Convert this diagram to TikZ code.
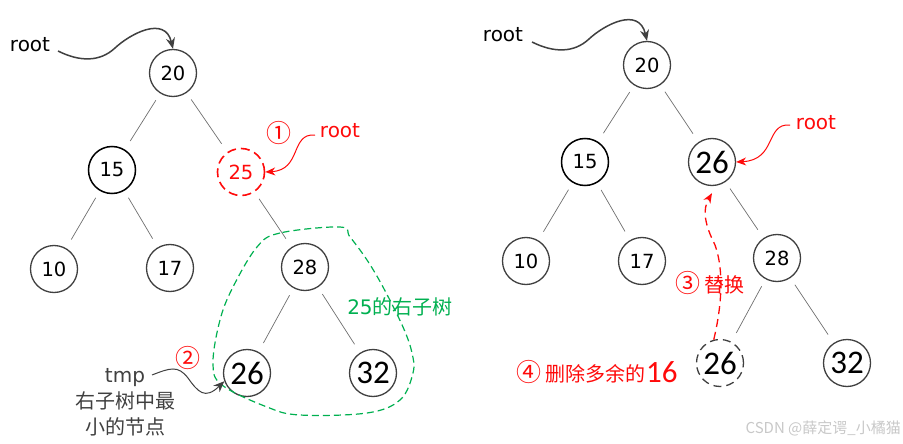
\documentclass[tikz,border=0pt]{standalone}
\usepackage{fontspec}
\setmainfont{DejaVu Sans}
\newfontfamily\cjk{Noto Sans CJK SC}
\newfontfamily\bignum{Carlito}
\usetikzlibrary{arrows.meta}
\definecolor{darkline}{RGB}{64,64,64}
\definecolor{edgegray}{RGB}{110,110,110}
\definecolor{subgreen}{RGB}{0,176,80}
\definecolor{markred}{RGB}{255,10,10}
\definecolor{wmgray}{RGB}{200,200,200}
\newcommand\stepmark[1]{{\cjk\fontsize{25}{26}\selectfont #1}}
\begin{document}
\begin{tikzpicture}[x=1pt, y=-1pt,
  num/.style={circle, draw=darkline, line width=1.3pt, minimum size=47pt, inner sep=0pt, font=\fontsize{19.5}{22}\selectfont},
  bigtext/.style={font=\bignum\fontsize{33}{36}\selectfont},
  edge/.style={draw=edgegray, line width=0.7pt, shorten <=8pt, shorten >=10pt},
  lbl/.style={inner sep=0pt, font=\fontsize{20}{24}\selectfont},
  cjklbl/.style={inner sep=0pt, font=\cjk\fontsize{20}{26}\selectfont},
  ptr/.style={draw=darkline, line width=1.5pt, -{Stealth[length=11pt,width=9pt]}},
  redptr/.style={draw=markred, line width=1pt, -{Stealth[length=10pt,width=8pt]}},
]
\useasboundingbox (0,0) rectangle (903,444);

% left tree
\node[num] (l20) at (173,73) {20};
\node[num, draw=black, line width=1.5pt] (l15) at (112,170) {15};
\node[num, draw=markred, line width=1.6pt, dash pattern=on 9pt off 5pt, text=markred] (l25) at (241,172) {25};
\node[num] (l10) at (54,269) {10};
\node[num] (l17) at (170,268) {17};
\node[num] (l28) at (305,267) {28};
\node[num, bigtext] (l26) at (247,373) {26};
\node[num, bigtext] (l32) at (373,373) {32};

% right tree
\node[num] (r20) at (647,65) {20};
\node[num, draw=black, line width=1.5pt] (r15) at (585,162) {15};
\node[num, bigtext] (r26) at (712,162) {26};
\node[num] (r10) at (526,261) {10};
\node[num] (r17) at (642,261) {17};
\node[num] (r28) at (777,258) {28};
\node[num, bigtext, dash pattern=on 8pt off 5pt] (r26d) at (720,363) {26};
\node[num, bigtext] (r32) at (847,363) {32};

\foreach \a/\b in {l20/l15, l20/l25, l15/l10, l15/l17, l25/l28, l28/l26, l28/l32,
                   r20/r15, r20/r26, r15/r10, r15/r17, r26/r28, r28/r26d, r28/r32}
    \draw[edge] (\a) -- (\b);

% root pointers
\node[lbl] (lroot) at (30,45) {root};
\coordinate (lrootend) at (58,51);
\draw[ptr] (lrootend) .. controls (80,62) and (100,62) .. (115,48)
    .. controls (130,34) and (165,15) .. (l20.north);
\node[lbl] (rroot) at (503,35) {root};
\coordinate (rrootend) at (532,42);
\draw[ptr] (rrootend) .. controls (554,53) and (574,53) .. (589,39)
    .. controls (604,25) and (639,6) .. (r20.north);

% step 1
\node[inner sep=0pt, text=markred] (one) at (279,133) {\stepmark{①}};
\node[lbl, text=markred] (lnewroot) at (340,131) {root};
\coordinate (lnewrootend) at (315,135);
\draw[redptr] (lnewrootend) .. controls (290,133) and (302,170) .. (l25.east);

% right subtree of 25
\draw[subgreen, line width=1.2pt, dash pattern=on 7pt off 4pt]
    plot[smooth cycle, tension=0.6] coordinates {(340,227) (280,233) (257,247) (233,287) (220,320)
    (213,363) (222,385) (267,407) (300,415) (367,413) (400,400) (413,373) (412,353) (403,327)
    (383,287) (367,260) (350,237)};
\node[inner sep=0pt, text=subgreen, font=\fontsize{20}{24}\selectfont] (subtree) at (400,307) {25{\cjk 的右子树}};

% step 2
\node[inner sep=0pt, text=markred] (two) at (188,358) {\stepmark{②}};
\node[cjklbl, align=center, text=darkline] (tmp) at (125,402) {{\fontspec{DejaVu Sans}tmp}\\右子树中最\\小的节点};
\coordinate (tmpend) at (152,375);
\draw[draw=darkline, line width=1pt, -{Stealth[length=11pt,width=9pt]}] (tmpend)
    .. controls (170,368) and (178,365) .. (188,378)
    .. controls (198,392) and (205,400) .. (l26.200);

% step 3
\node[lbl, text=markred] (rnewroot) at (816,123) {root};
\coordinate (rnewrootend) at (790,125);
\draw[redptr] (rnewrootend) .. controls (765,123) and (777,160) .. (r26.east);
\draw[redptr, line width=1.3pt, dash pattern=on 8pt off 5pt] (r26d.105)
    .. controls (722,305) and (724,270) .. (715,245)
    .. controls (705,225) and (702,210) .. ([yshift=-7pt]r26.south);
\node[cjklbl, text=markred] (three) at (710,283) {\stepmark{③} 替换};

% step 4
\node[cjklbl, text=markred, anchor=east] (four) at (646,372) {\stepmark{④} 删除多余的};
\node[inner sep=0pt, text=markred, font=\bignum\fontsize{31}{34}\selectfont, anchor=west] (sixteen) at (four.east) {16};

\node[inner sep=0pt, text=wmgray, font=\cjk\fontsize{15}{18}\selectfont, anchor=east] (mark) at (901,428) {CSDN @薛定谔\_小橘猫};
\end{tikzpicture}
\end{document}
